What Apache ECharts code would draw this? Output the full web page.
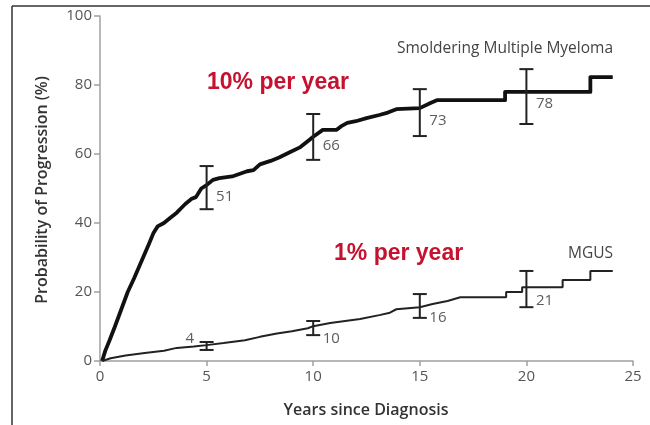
<!DOCTYPE html>
<html>
<head>
<meta charset="utf-8">
<script src="https://cdn.jsdelivr.net/npm/echarts@6/dist/echarts.min.js"></script>
<style>html,body{margin:0;padding:0;background:#fff;}#c{width:650px;height:425px;}</style>
</head>
<body>
<div id="c"></div>
<script>
// ---- data ----
var xTicks = [0, 5, 10, 15, 20, 25];
var yTicks = [0, 20, 40, 60, 80, 100];

var smmYears = [0.1,0.25,0.45,0.7,1.0,1.3,1.6,1.95,2.3,2.5,2.7,3.0,3.3,3.6,4.0,4.3,4.5,4.75,5.0,5.3,5.6,6.2,6.9,7.2,7.5,8.0,8.4,8.9,9.4,9.8,10.0,10.45,11.1,11.3,11.6,12.0,12.5,13.1,13.5,13.9,15.0,15.5,15.8,19.0,19.0,23.0,23.0,24.05];
var smmProb  = [0,3,6,10,15,20,24,29,34,37,39,40,41.5,43,45.5,47,47.5,50,51,52.5,53,53.5,55,55.3,57,58,59,60.5,62,64,65,67,67,68,69,69.5,70.4,71.3,72,73,73.3,74.8,75.6,75.6,78,78,82.3,82.3];

var mgusYears = [0.1,0.5,1.2,2.1,3.0,3.6,4.4,5.0,5.8,6.8,7.5,8.3,9.0,9.75,10.0,10.8,12.2,13.1,13.6,13.9,15.0,15.6,16.3,16.9,19.05,19.05,19.8,19.8,21.7,21.7,23.0,23.0,24.05];
var mgusProb  = [0,0.8,1.6,2.3,3.0,3.8,4.2,4.6,5.2,6.0,7,8,8.6,9.5,10.1,11,12.2,13.3,14,15,15.6,16.5,17.4,18.5,18.5,20,20,21.4,21.4,23.5,23.5,26.1,26.1];

var ciYears   = [5, 10, 15, 20];
var smmLow    = [44, 58.3, 65.2, 68.7];
var smmHigh   = [56.5, 71.6, 78.8, 84.6];
var smmLabels = [51, 66, 73, 78];
var mgusLow   = [3.2, 7.5, 12.5, 15.6];
var mgusHigh  = [5.5, 11.6, 19.4, 26.1];
var mgusLabels = [4, 10, 16, 21];

// ---- build ----
function pairs(xs, ys){ return xs.map(function(x,i){ return [x, ys[i]]; }); }
function ciData(lo, hi){ return ciYears.map(function(x,i){ return [x, lo[i], hi[i]]; }); }
function lblData(vals){ return ciYears.map(function(x,i){ return [x, vals[i], vals[i]]; }); }

var tickFont = 'Open Sans';
function errorBar(params, api){
  var x = api.value(0), lo = api.coord([x, api.value(1)]), hi = api.coord([x, api.value(2)]);
  var w = 7, st = {stroke:'#222', lineWidth:2};
  return {type:'group', children:[
    {type:'line', shape:{x1:lo[0], y1:lo[1], x2:hi[0], y2:hi[1]}, style:st},
    {type:'line', shape:{x1:lo[0]-w, y1:lo[1], x2:lo[0]+w, y2:lo[1]}, style:st},
    {type:'line', shape:{x1:hi[0]-w, y1:hi[1], x2:hi[0]+w, y2:hi[1]}, style:st}
  ]};
}

var labelStyle = {show:true, position:'right', distance:9, offset:[0,12], color:'#333', fontFamily:tickFont, fontSize:15, formatter:function(p){return String(p.value[2]);}};

var mgusLbl = lblData(mgusLabels).map(function(d, i){
  if (i === 0) return {value:d, label:{position:'left', distance:12, offset:[0,-8]}};
  return {value:d};
});

var chart = echarts.init(document.getElementById('c'), null, {renderer:'canvas'});
chart.setOption({
  animation:false,
  backgroundColor:'#fff',
  grid:{left:100, right:17, top:16, bottom:64, containLabel:false},
  xAxis:{type:'value', min:0, max:25, interval:5,
    axisLine:{show:true, lineStyle:{color:'#a0a0a0', width:1.5}},
    axisTick:{show:true, length:5, lineStyle:{color:'#a0a0a0', width:1.5}},
    axisLabel:{color:'#555', fontFamily:tickFont, fontSize:15, margin:8},
    splitLine:{show:false}},
  yAxis:{type:'value', min:0, max:100, interval:20,
    axisLine:{show:true, lineStyle:{color:'#a0a0a0', width:1.5}},
    axisTick:{show:true, length:6, lineStyle:{color:'#a0a0a0', width:1.5}},
    axisLabel:{color:'#555', fontFamily:tickFont, fontSize:15, margin:8},
    splitLine:{show:false}},
  series:[
    {type:'line', data:pairs(smmYears, smmProb), showSymbol:false, symbol:'none',
      lineStyle:{color:'#111', width:3.8, join:'round'}, z:3},
    {type:'line', data:pairs(mgusYears, mgusProb), showSymbol:false, symbol:'none',
      lineStyle:{color:'#222', width:2}, z:3},
    {type:'custom', renderItem:errorBar, data:ciData(smmLow, smmHigh), z:4},
    {type:'custom', renderItem:errorBar, data:ciData(mgusLow, mgusHigh), z:4},
    {type:'scatter', data:lblData(smmLabels), symbolSize:1, itemStyle:{color:'rgba(0,0,0,0)'}, label:labelStyle, z:5, silent:true},
    {type:'scatter', data:mgusLbl, symbolSize:1, itemStyle:{color:'rgba(0,0,0,0)'}, label:labelStyle, z:5, silent:true}
  ],
  graphic:[
    {type:'line', shape:{x1:12, y1:6, x2:650, y2:6}, style:{stroke:'#333', lineWidth:1.5}},
    {type:'line', shape:{x1:12, y1:6, x2:12, y2:425}, style:{stroke:'#333', lineWidth:1.5}},
    {type:'text', x:613, y:49, style:{text:'Smoldering Multiple Myeloma', font:'15.5px "Open Sans"', fill:'#444', align:'right', verticalAlign:'middle'}},
    {type:'text', x:613, y:254, style:{text:'MGUS', font:'15.5px "Open Sans"', fill:'#444', align:'right', verticalAlign:'middle'}},
    {type:'text', x:207, y:83, style:{text:'10% per year', font:'bold 23px "Liberation Sans"', fill:'#c4122f', align:'left', verticalAlign:'middle'}},
    {type:'text', x:334, y:254, style:{text:'1% per year', font:'bold 23px "Liberation Sans"', fill:'#c4122f', align:'left', verticalAlign:'middle'}},
    {type:'text', x:366, y:410, style:{text:'Years since Diagnosis', font:'600 16px "Open Sans"', fill:'#333', align:'center', verticalAlign:'middle'}},
    {type:'text', x:42, y:190, rotation:Math.PI/2, style:{text:'Probability of Progression (%)', font:'600 16px "Open Sans"', fill:'#333', align:'center', verticalAlign:'middle'}}
  ]
});
</script>
</body>
</html>
